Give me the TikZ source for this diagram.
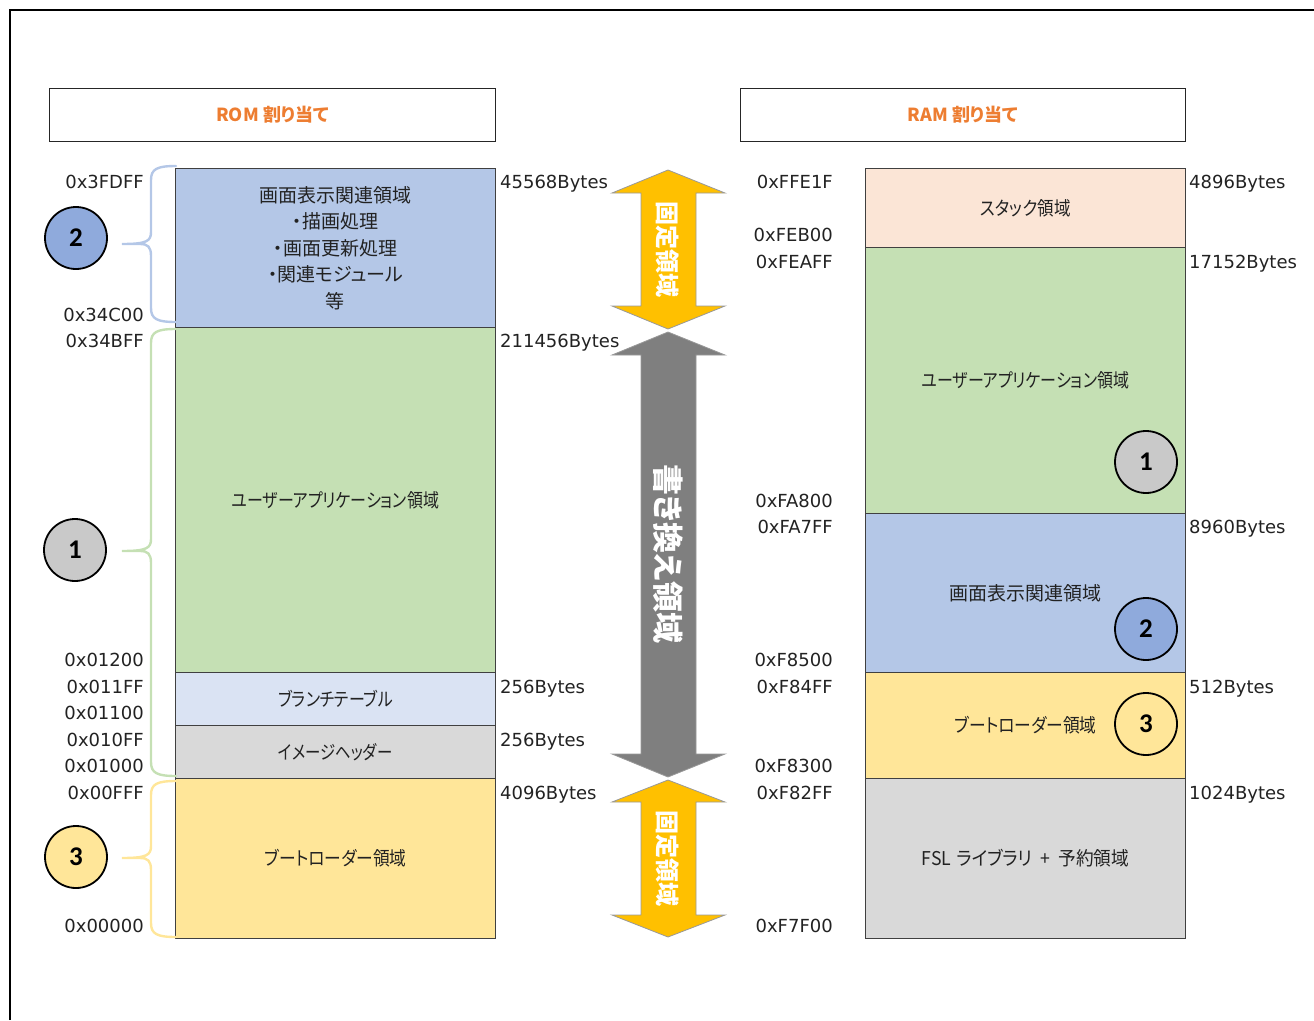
\documentclass[tikz,border=0pt]{standalone}
\usepackage{fontspec}
\setmainfont{DejaVu Sans}
\newfontfamily\cjk[RawFeature=+palt]{Noto Sans CJK JP}
\newfontfamily\numf{Carlito}
\newcommand\nar[2]{\scalebox{#1}[1]{#2}}
\definecolor{cblue}{HTML}{B4C7E7}
\definecolor{cgreen}{HTML}{C5E0B4}
\definecolor{clav}{HTML}{DAE3F3}
\definecolor{cgray}{HTML}{D9D9D9}
\definecolor{cyel}{HTML}{FFE699}
\definecolor{cpeach}{HTML}{FBE5D6}
\definecolor{ccblue}{HTML}{8FAADC}
\definecolor{ccgray}{HTML}{C9C9C9}
\definecolor{corange}{HTML}{ED7D31}
\definecolor{arrY}{HTML}{FFC000}
\definecolor{arrG}{HTML}{7F7F7F}
\definecolor{txt}{HTML}{222222}
\tikzset{
  blk/.style={rectangle, draw=black!75, line width=0.9pt, minimum width=320pt, inner sep=0pt, anchor=north west, text=txt, font=\cjk\fontsize{19}{26.5}\selectfont, align=center},
  hdr/.style={rectangle, draw=black!85, line width=1.2pt, minimum height=53pt, inner sep=0pt, anchor=north west, text=corange, font=\cjk\bfseries\fontsize{18}{22}\selectfont},
  circ/.style={circle, draw=black, line width=1.8pt, minimum size=62pt, inner sep=0pt, font=\numf\bfseries\fontsize{27}{30}\selectfont},
  lblL/.style={anchor=base east, inner sep=0pt, text=txt, font=\fontsize{18}{20}\selectfont},
  lblR/.style={anchor=base west, inner sep=0pt, text=txt, font=\fontsize{18}{20}\selectfont},
  arrtxt/.style={rotate=-90, text=white, inner sep=0pt, font=\cjk\bfseries},
  bracepath/.style={line width=2.4pt, line cap=round}
}
\newcommand\mybrace[4]{%
 \draw[bracepath, #1] (176,#2) .. controls (157,#2) and (151,#2+3) .. (151,#2+14) -- (151,#4-12) .. controls (151,#4-3) and (147,#4) .. (122,#4) -- (140,#4) .. controls (148,#4) and (151,#4+3) .. (151,#4+12) -- (151,#3-14) .. controls (151,#3-3) and (157,#3) .. (176,#3);}
\newcommand\dblarrow[4]{% fill, top, bottom, head
 \filldraw[fill=#1, draw=black!40, line width=0.8pt] (668,#2) -- (725,#2+#4) -- (696,#2+#4) -- (696,#3-#4) -- (725,#3-#4) -- (668,#3) -- (612,#3-#4) -- (641,#3-#4) -- (641,#2+#4) -- (612,#2+#4) -- cycle;}
\begin{document}
\begin{tikzpicture}[x=1pt,y=-1pt]
\useasboundingbox (0,0) rectangle (1314,1020);
\draw[line width=2pt] (10,1020) -- (10,10) -- (1314,10);
% headers
\node[hdr, minimum width=446pt] (romh) at (49,88) {ROM 割り当て};
\node[hdr, minimum width=445pt] (ramh) at (740,88) {RAM 割り当て};
% ROM blocks
\node[blk, fill=cblue, minimum height=159pt] (r2) at (175,168) {画面表示関連領域\\・描画処理\\・画面更新処理\\・関連モジュール\\等};
\node[blk, fill=cgreen, minimum height=345pt] (r1) at (175,327) {\nar{0.84}{ユーザーアプリケーション領域}};
\node[blk, fill=clav, minimum height=53pt] (rbr) at (175,672) {\nar{0.84}{ブランチテーブル}};
\node[blk, fill=cgray, minimum height=53pt] (rih) at (175,725) {\nar{0.81}{イメージヘッダー}};
\node[blk, fill=cyel, minimum height=160pt] (r3) at (175,778) {\nar{0.88}{ブートローダー領域}};
% RAM blocks
\node[blk, fill=cpeach, minimum height=79pt] (mst) at (865,168) {\nar{0.87}{スタック領域}};
\node[blk, fill=cgreen, minimum height=266pt] (m1) at (865,247) {\nar{0.84}{ユーザーアプリケーション領域}};
\node[blk, fill=cblue, minimum height=159pt] (m2) at (865,513) {画面表示関連領域};
\node[blk, fill=cyel, minimum height=106pt] (m3) at (865,672) {\nar{0.88}{ブートローダー領域}};
\node[blk, fill=cgray, minimum height=160pt] (mfsl) at (865,778) {\nar{0.93}{FSL\hspace{0.3em}ライブラリ\hspace{0.45em}+\hspace{0.45em}予約領域}};
% circles
\node[circ, fill=ccblue] (c2) at (76,238) {2};
\node[circ, fill=ccgray] (c1) at (75,550) {1};
\node[circ, fill=cyel] (c3) at (76,857) {3};
\node[circ, fill=ccgray] (mc1) at (1146,462) {1};
\node[circ, fill=ccblue] (mc2) at (1146,629) {2};
\node[circ, fill=cyel] (mc3) at (1146,724) {3};
% braces
\mybrace{cblue}{166}{322}{244}
\mybrace{cgreen}{329}{776}{551}
\mybrace{cyel}{781}{937}{858}
% arrows
\dblarrow{arrY}{170}{329}{23}
\node[arrtxt, font=\cjk\bfseries\fontsize{24}{24}\selectfont] (fa1) at (668,249) {固定領域};
\dblarrow{arrG}{332}{777}{23}
\node[arrtxt, font=\cjk\bfseries\fontsize{31}{31}\selectfont] (fa2) at (668,554) {書き換え領域};
\dblarrow{arrY}{780}{937}{22}
\node[arrtxt, font=\cjk\bfseries\fontsize{24}{24}\selectfont] (fa3) at (668,858) {固定領域};
% ROM left labels
\node[lblL] (a1) at (144,188.5) {0x3FDFF};
\node[lblL] (a2) at (144,321.5) {0x34C00};
\node[lblL] (a3) at (144,347.5) {0x34BFF};
\node[lblL] (a4) at (144,666.5) {0x01200};
\node[lblL] (a5) at (144,693.5) {0x011FF};
\node[lblL] (a6) at (144,719.5) {0x01100};
\node[lblL] (a7) at (144,746.5) {0x010FF};
\node[lblL] (a8) at (144,772.5) {0x01000};
\node[lblL] (a9) at (144,799.5) {0x00FFF};
\node[lblL] (a10) at (144,932.5) {0x00000};
% ROM right labels
\node[lblR] (b1) at (500,188.5) {45568Bytes};
\node[lblR] (b2) at (500,347.5) {211456Bytes};
\node[lblR] (b3) at (500,693.5) {256Bytes};
\node[lblR] (b4) at (500,746.5) {256Bytes};
\node[lblR] (b5) at (500,799.5) {4096Bytes};
% RAM left labels
\node[lblL] (d1) at (833,188.5) {0xFFE1F};
\node[lblL] (d2) at (833,241.5) {0xFEB00};
\node[lblL] (d3) at (833,268.5) {0xFEAFF};
\node[lblL] (d4) at (833,507.5) {0xFA800};
\node[lblL] (d5) at (833,533.5) {0xFA7FF};
\node[lblL] (d6) at (833,666.5) {0xF8500};
\node[lblL] (d7) at (833,693.5) {0xF84FF};
\node[lblL] (d8) at (833,772.5) {0xF8300};
\node[lblL] (d9) at (833,799.5) {0xF82FF};
\node[lblL] (d10) at (833,932.5) {0xF7F00};
% RAM right labels
\node[lblR] (e1) at (1189,188.5) {4896Bytes};
\node[lblR] (e2) at (1189,268.5) {17152Bytes};
\node[lblR] (e3) at (1189,533.5) {8960Bytes};
\node[lblR] (e4) at (1189,693.5) {512Bytes};
\node[lblR] (e5) at (1189,799.5) {1024Bytes};
\end{tikzpicture}
\end{document}
